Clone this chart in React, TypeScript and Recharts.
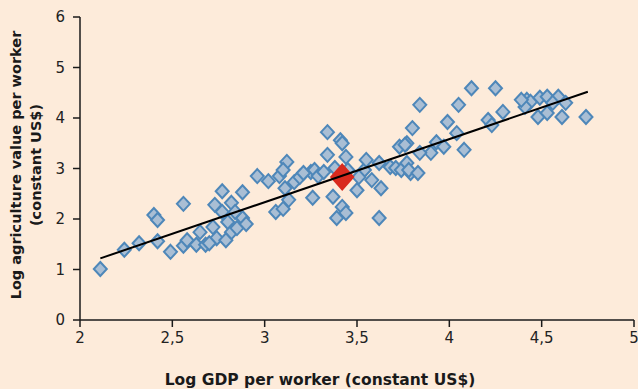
import { ScatterChart, Scatter, XAxis, YAxis } from 'recharts';

// country observations (log GDP per worker, log agriculture value per worker)
const gdpLog = [
  2.11, 2.24, 2.32, 2.40, 2.42, 2.42, 2.56, 2.49, 2.56, 2.58,
  2.63, 2.65, 2.68, 2.72, 2.74, 2.73, 2.77, 2.80, 2.77, 2.82,
  2.85, 2.82, 2.88, 2.88, 2.90, 2.79, 2.70, 2.84, 2.96, 3.02,
  3.06, 3.10, 3.08, 3.12, 3.10, 3.13, 3.11, 3.16, 3.19, 3.25,
  3.27, 3.26, 3.29, 3.34, 3.41, 3.42, 3.34, 3.44, 3.21, 3.32,
  3.37, 3.50, 3.54, 3.58, 3.62, 3.63, 3.68, 3.71, 3.74, 3.77,
  3.79, 3.73, 3.77, 3.80, 3.42, 3.44, 3.39, 3.62, 3.51, 3.55,
  4.12, 4.25, 3.84, 4.05, 3.99, 4.04, 4.21, 4.29, 4.23, 3.93,
  3.97, 3.90, 4.08, 3.84, 3.76, 3.78, 3.83, 4.42, 4.44, 4.49,
  4.53, 4.59, 4.63, 4.48, 4.53, 4.61, 4.41, 4.74, 4.39, 4.56,
  3.45, 3.38,
];
const agriLog = [
  1.01, 1.39, 1.52, 2.08, 1.98, 1.56, 2.30, 1.35, 1.47, 1.58,
  1.49, 1.74, 1.49, 1.84, 1.62, 2.28, 2.55, 1.94, 2.14, 1.74,
  1.82, 2.32, 2.02, 2.53, 1.90, 1.58, 1.52, 2.14, 2.85, 2.75,
  2.14, 2.20, 2.85, 3.13, 2.97, 2.38, 2.61, 2.73, 2.83, 2.93,
  2.97, 2.42, 2.85, 3.72, 3.56, 3.50, 3.27, 3.23, 2.91, 2.93,
  2.44, 2.57, 2.97, 2.77, 3.11, 2.61, 3.03, 3.01, 2.97, 3.11,
  2.91, 3.43, 3.50, 3.80, 2.24, 2.12, 2.02, 2.02, 2.83, 3.17,
  4.59, 4.59, 4.26, 4.26, 3.92, 3.70, 3.96, 4.12, 3.86, 3.52,
  3.43, 3.31, 3.37, 3.31, 3.47, 2.97, 2.91, 4.36, 4.32, 4.40,
  4.42, 4.42, 4.30, 4.02, 4.10, 4.02, 4.22, 4.02, 4.36, 4.30,
  2.97, 3.01,
];
const highlightX = [3.42];
const highlightY = [2.83];
const trendX = [2.11, 4.75];
const trendY = [1.22, 4.52];

const xTicks = [2, 2.5, 3, 3.5, 4, 4.5, 5];
const yTicks = [0, 1, 2, 3, 4, 5, 6];

const countries = gdpLog.map((x, i) => ({ x, y: agriLog[i] }));
const highlight = highlightX.map((x, i) => ({ x, y: highlightY[i] }));
const trend = trendX.map((x, i) => ({ x, y: trendY[i] }));

const FONT = '"DejaVu Sans", Verdana, sans-serif';

const diamond = (fill: string, stroke: string, rx: number, ry: number) => (props: any) => {
  const { cx, cy } = props;
  return (
    <polygon
      points={`${cx},${cy - ry} ${cx + rx},${cy} ${cx},${cy + ry} ${cx - rx},${cy}`}
      fill={fill}
      stroke={stroke}
      strokeWidth={2}
      strokeLinejoin="miter"
    />
  );
};

const YLabel = () => (
  <g fontFamily={FONT} fontWeight="bold" fontSize={14.5} fill="#1a1a1a" textAnchor="middle">
    <text x={16} y={165} transform="rotate(-90 16 165)" dominantBaseline="central">
      Log agriculture value per worker
    </text>
    <text x={36} y={165} transform="rotate(-90 36 165)" dominantBaseline="central">
      (constant US$)
    </text>
  </g>
);

const XLabel = () => (
  <text x={320} y={380} fontFamily={FONT} fontWeight="bold" fontSize={15.5} fill="#1a1a1a" textAnchor="middle" dominantBaseline="central">
    Log GDP per worker (constant US$)
  </text>
);

const comma = (v: number) => String(v).replace('.', ',');

export default function App() {
  return (
    <div style={{ position: 'absolute', left: 0, top: 0, width: 638, height: 389, background: '#FDEBDA', overflow: 'hidden' }}>
      <ScatterChart width={638} height={389} margin={{ top: 17, right: 4, bottom: 0, left: 0 }} style={{ fontFamily: FONT }}>
        <XAxis
          type="number"
          dataKey="x"
          domain={[2, 5]}
          ticks={xTicks}
          height={69}
          tickFormatter={comma}
          tick={{ fill: '#222', fontSize: 15 }}
          tickSize={7}
          tickMargin={5}
          axisLine={{ stroke: '#1a1a1a', strokeWidth: 1.5 }}
          tickLine={{ stroke: '#1a1a1a', strokeWidth: 1.5 }}
          label={<XLabel />}
          allowDataOverflow
        />
        <YAxis
          type="number"
          dataKey="y"
          domain={[0, 6]}
          ticks={yTicks}
          width={80}
          tick={{ fill: '#222', fontSize: 15 }}
          tickSize={7}
          tickMargin={8}
          axisLine={{ stroke: '#1a1a1a', strokeWidth: 1.5 }}
          tickLine={{ stroke: '#1a1a1a', strokeWidth: 1.5 }}
          label={<YLabel />}
          allowDataOverflow
        />
        <Scatter data={countries} shape={diamond('#A9BED4', '#4E87B9', 6.5, 7)} isAnimationActive={false} />
        <Scatter data={highlight} shape={diamond('#D92A1E', '#D92A1E', 11, 12.5)} isAnimationActive={false} />
        <Scatter
          data={trend}
          line={{ stroke: '#000', strokeWidth: 2 }}
          shape={() => <g />}
          isAnimationActive={false}
        />
      </ScatterChart>
    </div>
  );
}
